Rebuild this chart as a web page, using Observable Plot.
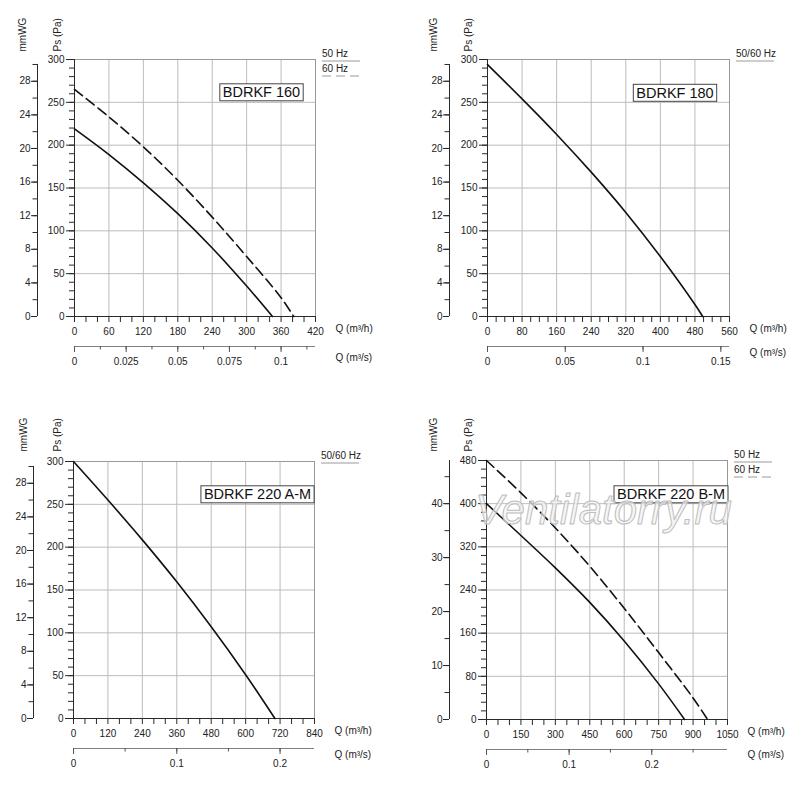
<!DOCTYPE html>
<html><head><meta charset="utf-8">
<script src="https://cdn.jsdelivr.net/npm/d3@7"></script>
<script src="https://cdn.jsdelivr.net/npm/@observablehq/plot@0.6"></script>
<style>
body{margin:0;background:#fff;}
#wrap{position:relative;width:800px;height:797px;overflow:hidden;background:#fff;}
#wrap > svg{position:absolute;}
</style></head><body><div id="wrap"></div>
<script>
// ---------- data ----------
const model160 = "BDRKF 160";
const q160_50 = [0, 60, 120, 180, 240, 300, 345];
const ps160_50 = [219, 189, 156, 120, 80, 35.5, 0];
const q160_60 = [0, 60, 120, 180, 240, 300, 360, 382];
const ps160_60 = [265, 233, 198, 159, 116, 70, 22, 0];

const model180 = "BDRKF 180";
const q180 = [0, 80, 160, 240, 320, 400, 480, 498];
const ps180 = [294, 254, 212.5, 168.5, 121.5, 70, 14, 0];

const model220A = "BDRKF 220 A-M";
const q220A = [0, 120, 240, 360, 480, 600, 702];
const ps220A = [300, 255, 208.5, 159.5, 107, 51, 0];

const model220B = "BDRKF 220 B-M";
const q220B_50 = [0, 150, 300, 450, 600, 750, 863];
const ps220B_50 = [400, 341, 281, 217, 145.5, 66, 0];
const q220B_60 = [0, 150, 300, 450, 600, 750, 900, 963];
const ps220B_60 = [480, 420, 355, 284, 206, 124, 40, 0];

// ---------- tick labels ----------
const qLabels160 = [0, 60, 120, 180, 240, 300, 360, 420];
const qLabels180 = [0, 80, 160, 240, 320, 400, 480, 560];
const qLabels220A = [0, 120, 240, 360, 480, 600, 720, 840];
const qLabels220B = [0, 150, 300, 450, 600, 750, 900, 1050];
const psLabels300 = [0, 50, 100, 150, 200, 250, 300];
const psLabels480 = [0, 80, 160, 240, 320, 400, 480];
const mmLabels30 = [0, 4, 8, 12, 16, 20, 24, 28];
const mmLabels48 = [0, 10, 20, 30, 40];
const sLabels160 = [0, 0.025, 0.05, 0.075, 0.1];
const sLabels180 = [0, 0.05, 0.1, 0.15];
const sLabels220 = [0, 0.1, 0.2];
const legend2 = ["50 Hz", "60 Hz"];
const legend1 = ["50/60 Hz"];
const yTitle = "Ps (Pa)";
const yTitle2 = "mmWG";
const xTitle = "Q (m³/h)";
const xTitle2 = "Q (m³/s)";
const watermark = "Ventilatorry.ru";

const K_PA = 9.80665;
const toRows = (q, ps, hz) => q.map((v, i) => ({q: v, ps: ps[i], hz}));

const panels = [
  {left: 0, top: 0, h: 398, mL: 74, mR: 85, mT: 59, mB: 82, model: model160,
   series: [toRows(q160_50, ps160_50, "50"), toRows(q160_60, ps160_60, "60")],
   qLabels: qLabels160, qStep: 20, psLabels: psLabels300, psStep: 10,
   mmLabels: mmLabels30, mmStep: 2, mmTop: 30, k: K_PA, mmOff: 37,
   sLabels: sLabels160, sStep: 0.0125, legend: legend2,
   yT: [-56, -21, -8], s2dy: 44, mdx: -54, mdy: 27.5},
  {left: 400, top: 0, h: 398, mL: 87, mR: 71, mT: 59, mB: 82, model: model180,
   series: [toRows(q180, ps180, "50")],
   qLabels: qLabels180, qStep: 20, psLabels: psLabels300, psStep: 10,
   mmLabels: mmLabels30, mmStep: 2, mmTop: 30, k: K_PA, mmOff: 38,
   sLabels: sLabels180, sStep: 0.05, legend: legend1,
   yT: [-58, -23, -8], s2dy: 39, mdx: -54.5, mdy: 28},
  {left: 0, top: 400, h: 397, mL: 73, mR: 86, mT: 61, mB: 79, model: model220A,
   series: [toRows(q220A, ps220A, "50")],
   qLabels: qLabels220A, qStep: 40, psLabels: psLabels300, psStep: 10,
   mmLabels: mmLabels30, mmStep: 2, mmTop: 30, k: K_PA, mmOff: 40,
   sLabels: sLabels220, sStep: 0.05, legend: legend1,
   yT: [-54, -20, -10], s2dy: 39, mdx: -57, mdy: 27.5},
  {left: 400, top: 400, h: 397, mL: 86, mR: 73, mT: 60, mB: 78, model: model220B,
   series: [toRows(q220B_50, ps220B_50, "50"), toRows(q220B_60, ps220B_60, "60")],
   qLabels: qLabels220B, qStep: 50, psLabels: psLabels480, psStep: 16,
   mmLabels: mmLabels48, mmStep: 5, mmTop: 48, k: 10, mmOff: 37,
   sLabels: sLabels220, sStep: 0.05, legend: legend2,
   yT: [-57, -22, -9], s2dy: 38.6, mdx: -56.5, mdy: 28.5, watermark: true}
];

const GRID = "#bcbcbc", FRAME = "#999", AXIS = "#2a2a2a", SAX = "#808080";
const FONT = "'Liberation Sans', Arial, Helvetica, sans-serif";
const key = d => Math.round(d * 1000);
const steps = (max, step) => d3.range(0, Math.floor(max / step + 1e-6) + 1).map(i => +(i * step).toFixed(6));

const wrap = document.getElementById("wrap");

for (const p of panels) {
  const W = 400;
  const xmax = p.qLabels[p.qLabels.length - 1];
  const ymax = p.psLabels[p.psLabels.length - 1];
  const qMinor = steps(xmax, p.qStep);
  const psMinor = steps(ymax, p.psStep);
  const mmMinor = steps(p.mmTop, p.mmStep);
  const sMinor = steps(xmax / 3600, p.sStep);
  const mmMap = new Map(p.mmLabels.map(m => [key(m * p.k), String(m)]));
  const sMap = new Map(p.sLabels.map(s => [key(s * 3600), String(s)]));

  const marks = [
    Plot.gridX(p.qLabels, {stroke: GRID, strokeOpacity: 1}),
    Plot.gridY(p.psLabels, {stroke: GRID, strokeOpacity: 1}),
    Plot.frame({stroke: FRAME}),
    Plot.ruleX([0], {stroke: AXIS}),
    Plot.ruleY([0], {stroke: AXIS}),
    // primary axes
    Plot.axisX({ticks: qMinor, tickSize: 6, tickPadding: 5, stroke: AXIS, label: null,
      tickFormat: d => p.qLabels.includes(d) ? String(d) : ""}),
    Plot.axisY({ticks: psMinor, tickSize: 5, tickFormat: () => "", label: null, stroke: AXIS}),
    Plot.axisY({ticks: p.psLabels, tickSize: 8, tickPadding: 2, label: null, stroke: AXIS,
      tickFormat: d => String(d)}),
    // mmWG axis
    Plot.ruleX([0], {y1: 0, y2: p.mmTop * p.k, dx: -p.mmOff, stroke: AXIS}),
    Plot.axisY({ticks: mmMinor.map(m => m * p.k), tickSize: 4.5, tickFormat: () => "", dx: -p.mmOff, label: null, stroke: AXIS}),
    Plot.axisY({ticks: p.mmLabels.map(m => m * p.k), tickSize: 6, tickPadding: 1, dx: -p.mmOff, label: null, stroke: AXIS,
      tickFormat: d => mmMap.get(key(d)) ?? ""}),
    // m3/s axis
    Plot.ruleY([0], {x1: 0, x2: xmax, dy: 30, stroke: SAX}),
    Plot.axisX({ticks: sMinor.map(s => s * 3600), tickSize: 3.5, tickFormat: () => "", dy: 30, label: null, stroke: "#555"}),
    Plot.axisX({ticks: p.sLabels.map(s => s * 3600), tickSize: 6, tickPadding: 5, dy: 30, label: null, stroke: "#555",
      tickFormat: d => sMap.get(key(d)) ?? ""}),
    // titles
    Plot.text([xTitle], {text: d => d, frameAnchor: "bottom-right", dx: 20, dy: 15, textAnchor: "start"}),
    Plot.text([xTitle2], {text: d => d, frameAnchor: "bottom-right", dx: 20, dy: p.s2dy, textAnchor: "start"}),
    Plot.text([yTitle2], {text: d => d, frameAnchor: "top-left", dx: p.yT[0], dy: p.yT[2], rotate: -90, textAnchor: "start"}),
    Plot.text([yTitle], {text: d => d, frameAnchor: "top-left", dx: p.yT[1], dy: p.yT[2], rotate: -90, textAnchor: "start"}),
    // curves
    ...p.series.map(rows => Plot.line(rows, {x: "q", y: "ps", curve: "catmull-rom",
      stroke: "#111", strokeWidth: 1.6, strokeDasharray: rows[0].hz === "60" ? "10,5" : null})),
    // model label
    Plot.text([p.model], {text: d => d, frameAnchor: "top-right", dx: p.mdx, dy: p.mdy, textAnchor: "middle", fontSize: 14.5, fill: "#111"})
  ];
  if (p.watermark) {
    marks.push(Plot.text([watermark], {text: d => d, frameAnchor: "top-left", dx: 117, dy: 34, textAnchor: "middle",
      fontSize: 42, fontStyle: "italic", fill: "#f2f2f2", fillOpacity: 0.7, stroke: "#bdbdbd", strokeWidth: 1,
      paintOrder: "normal"}));
  }

  const svg = Plot.plot({
    width: W, height: p.h,
    marginLeft: p.mL, marginRight: p.mR, marginTop: p.mT, marginBottom: p.mB,
    x: {domain: [0, xmax], label: null},
    y: {domain: [0, ymax], label: null},
    style: {fontFamily: FONT, fontSize: "10px", color: "#222", background: "none", overflow: "visible"},
    marks
  });
  svg.style.left = p.left + "px";
  svg.style.top = p.top + "px";
  wrap.appendChild(svg);

  // box around the model label
  const t = [...svg.querySelectorAll("text")].find(e => e.textContent === p.model);
  if (t) {
    const bb = t.getBBox();
    const r = document.createElementNS("http://www.w3.org/2000/svg", "rect");
    r.setAttribute("x", bb.x - 3);
    r.setAttribute("y", bb.y - 0.5);
    r.setAttribute("width", bb.width + 6);
    r.setAttribute("height", bb.height + 1);
    r.setAttribute("fill", "#fff");
    r.setAttribute("stroke", "#444");
    r.setAttribute("stroke-width", 1);
    const tr = t.getAttribute("transform");
    if (tr) r.setAttribute("transform", tr);
    t.parentNode.insertBefore(r, t);
  }

  // legend (outside the frame, top-right)
  const fR = W - p.mR, fT = p.mT;
  const g = d3.select(svg).append("g").attr("font-family", FONT).attr("font-size", 10)
    .attr("fill", "#222").attr("text-anchor", "start");
  p.legend.forEach((lab, i) => {
    g.append("text").attr("x", fR + 7).attr("y", fT - 2.5 + i * 15.5).attr("text-anchor", "start").text(lab);
    g.append("line").attr("x1", fR + 7).attr("x2", fR + 45)
      .attr("y1", fT + 2 + i * 15).attr("y2", fT + 2 + i * 15)
      .attr("stroke", "#9a9a9a").attr("stroke-width", 1)
      .attr("stroke-dasharray", i === 1 ? "9,5" : null);
  });
}
</script></body></html>
